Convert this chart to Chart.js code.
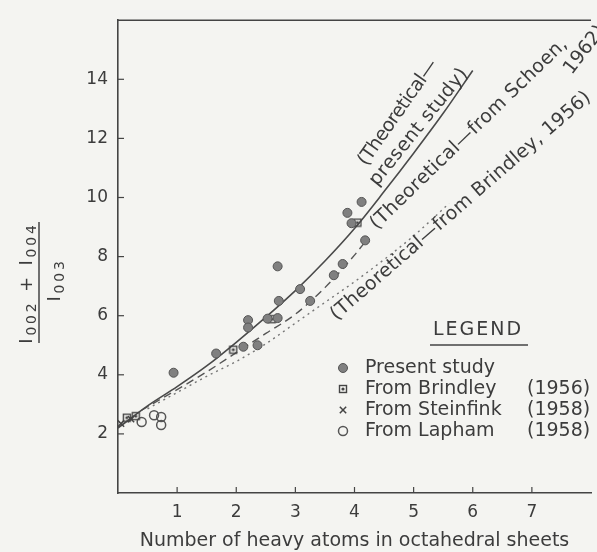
<!DOCTYPE html>
<html>
<head>
<meta charset="utf-8">
<title>Basal intensity ratio vs heavy atoms</title>
<script src="https://cdn.jsdelivr.net/npm/chart.js@4.4.1/dist/chart.umd.min.js"></script>
<style>
  html, body { margin: 0; padding: 0; background: #f4f4f1; }
  #wrap { width: 597px; height: 552px; position: relative; }
</style>
</head>
<body>
<div id="wrap"><canvas id="myChart"></canvas></div>
<script>
// values
const xTicks = [1, 2, 3, 4, 5, 6, 7];
const yTicks = [2, 4, 6, 8, 10, 12, 14];

// measured points
const presentX = [0.94, 1.66, 2.12, 2.36, 2.2, 2.2, 2.53, 2.7, 2.72, 2.7, 3.08, 3.25, 3.65, 3.8, 4.18, 3.88, 4.12, 3.95];
const presentY = [4.07, 4.72, 4.95, 5.0, 5.85, 5.6, 5.9, 5.92, 6.5, 7.67, 6.9, 6.5, 7.37, 7.75, 8.55, 9.48, 9.85, 9.13];
const brindleyX = [0.15, 0.3, 1.95, 2.6, 4.05];
const brindleyY = [2.55, 2.6, 4.85, 5.88, 9.15];
const steinfinkX = [0.05, 0.22];
const steinfinkY = [2.35, 2.5];
const laphamX = [0.4, 0.61, 0.73, 0.73];
const laphamY = [2.4, 2.63, 2.3, 2.57];

// theoretical curves
const theoryX = [0, 0.5, 1, 1.5, 2, 2.5, 3, 3.5, 4, 4.5, 5, 5.5, 6];
const theoryY = [2.2, 2.95, 3.6, 4.3, 5.1, 5.95, 6.85, 7.85, 8.95, 10.2, 11.5, 12.85, 14.3];
const schoenX = [0.4, 1, 1.5, 2, 2.5, 3, 3.5, 4, 4.2];
const schoenY = [2.8, 3.5, 4.1, 4.75, 5.4, 6.05, 6.95, 8.05, 8.55];
const brindleyThX = [0.5, 1, 1.5, 2, 2.5, 3, 3.5, 4, 4.5, 5, 5.6];
const brindleyThY = [2.85, 3.4, 3.95, 4.45, 5.05, 5.75, 6.45, 7.15, 7.9, 8.7, 9.8];

const legendNames = ['Present study', 'From Brindley', 'From Steinfink', 'From Lapham'];
const legendYears = ['', '(1956)', '(1958)', '(1958)'];

const INK = '#3c3c3c';
const FONT = "'DejaVu Sans', sans-serif";
Chart.defaults.font.family = FONT;
Chart.defaults.color = INK;

const pts = (xs, ys) => xs.map((x, i) => ({ x: x, y: ys[i] }));

// square with a dot for Brindley points
function squareDot(size) {
    const c = document.createElement('canvas');
    c.width = size; c.height = size;
    const g = c.getContext('2d');
    g.strokeStyle = '#444';
    g.lineWidth = 1.4;
    g.strokeRect(1.5, 1.5, size - 3, size - 3);
    g.fillStyle = '#444';
    g.beginPath();
    g.arc(size / 2, size / 2, 1.6, 0, Math.PI * 2);
    g.fill();
    return c;
}
const sqImg = squareDot(10);

const markerStyles = [
    { pointStyle: 'circle', radius: 4.5, borderWidth: 1, fill: '#808080', stroke: '#555' },
    { pointStyle: sqImg, radius: 5, borderWidth: 1, fill: 'transparent', stroke: '#444' },
    { pointStyle: 'crossRot', radius: 4.5, borderWidth: 1.5, fill: 'transparent', stroke: '#444' },
    { pointStyle: 'circle', radius: 4.5, borderWidth: 1.5, fill: 'rgba(0,0,0,0)', stroke: '#555' }
];

function pointSet(label, data, m) {
    return {
        label: label, data: data, showLine: false,
        pointStyle: m.pointStyle, pointRadius: m.radius, pointBorderWidth: m.borderWidth,
        pointBackgroundColor: m.fill, pointBorderColor: m.stroke
    };
}
function lineSet(label, data, dash, color, width) {
    return {
        label: label, data: data, showLine: true, pointRadius: 0,
        borderColor: color, borderWidth: width, borderDash: dash,
        cubicInterpolationMode: 'monotone', fill: false
    };
}

function rotText(ctx, str, cx, cy, deg, len) {
    ctx.save();
    ctx.translate(cx, cy);
    ctx.rotate(-deg * Math.PI / 180);
    ctx.letterSpacing = '0px';
    const w = ctx.measureText(str).width;
    if (len) ctx.letterSpacing = ((len - w) / (str.length - 1)).toFixed(2) + 'px';
    ctx.textAlign = 'center';
    ctx.textBaseline = 'middle';
    ctx.fillText(str, 0, 0);
    ctx.restore();
}

// y axis title: (I002 + I004) / I003, rotated
function subRun(ctx, parts, baseX, centerY) {
    const big = "18px " + FONT, small = "14px " + FONT;
    ctx.save();
    ctx.translate(baseX, centerY);
    ctx.rotate(-Math.PI / 2);
    ctx.letterSpacing = '2.8px';
    ctx.textAlign = 'left';
    ctx.textBaseline = 'alphabetic';
    let total = 0;
    parts.forEach(p => { ctx.font = p.sub ? small : big; total += ctx.measureText(p.t).width; });
    let x = -total / 2;
    parts.forEach(p => {
        ctx.font = p.sub ? small : big;
        ctx.fillText(p.t, x, p.sub ? 4 : 0);
        x += ctx.measureText(p.t).width;
    });
    ctx.restore();
}

const decorPlugin = {
    id: 'decor',
    beforeDraw(chart) {
        const ctx = chart.ctx;
        ctx.save();
        ctx.fillStyle = '#f4f4f1';
        ctx.fillRect(0, 0, chart.width, chart.height);
        ctx.restore();
    },
    afterDraw(chart) {
        const ctx = chart.ctx;
        const a = chart.chartArea;
        const xs = chart.scales.x, ys = chart.scales.y;
        ctx.save();
        ctx.strokeStyle = '#444';
        ctx.lineWidth = 1.6;
        // top frame line
        ctx.beginPath();
        ctx.moveTo(a.left, a.top);
        ctx.lineTo(a.right, a.top);
        ctx.stroke();
        // inward tick marks
        ctx.lineWidth = 1.2;
        xTicks.forEach(v => {
            const px = xs.getPixelForValue(v);
            ctx.beginPath(); ctx.moveTo(px, a.bottom); ctx.lineTo(px, a.bottom - 6); ctx.stroke();
        });
        yTicks.forEach(v => {
            const py = ys.getPixelForValue(v);
            ctx.beginPath(); ctx.moveTo(a.left, py); ctx.lineTo(a.left + 6, py); ctx.stroke();
        });

        // y title fraction
        ctx.fillStyle = INK;
        subRun(ctx, [{ t: 'I' }, { t: '002', sub: true }, { t: ' + ' }, { t: 'I' }, { t: '004', sub: true }], 32, 283);
        subRun(ctx, [{ t: 'I' }, { t: '003', sub: true }], 60, 280);
        ctx.lineWidth = 1.5;
        ctx.beginPath(); ctx.moveTo(39, 222); ctx.lineTo(39, 343); ctx.stroke();

        // curve annotations
        ctx.font = "19px " + FONT;
        rotText(ctx, '(Theoretical\u2014', 398, 113, 55, 125);
        rotText(ctx, 'present study)', 419, 127, 51, 145);
        rotText(ctx, '(Theoretical\u2014from Schoen,', 469, 134, 44, 266);
        rotText(ctx, '1962)', 585, 50, 52, 56);
        rotText(ctx, '(Theoretical\u2014from Brindley, 1956)', 461, 206, 41, 338);

        // legend
        ctx.letterSpacing = '2px';
        ctx.textAlign = 'center';
        ctx.textBaseline = 'middle';
        ctx.fillText('LEGEND', 478, 330);
        ctx.letterSpacing = '0px';
        ctx.lineWidth = 1.5;
        ctx.beginPath(); ctx.moveTo(430, 345); ctx.lineTo(528, 345); ctx.stroke();
        ctx.textAlign = 'left';
        legendNames.forEach((name, i) => {
            const y = 368 + i * 21;
            const m = markerStyles[i];
            ctx.fillStyle = m.fill;
            ctx.strokeStyle = m.stroke;
            ctx.lineWidth = m.borderWidth;
            Chart.helpers.drawPoint(ctx, { pointStyle: m.pointStyle, radius: m.radius, rotation: 0, borderWidth: m.borderWidth }, 343, y);
            ctx.fillStyle = INK;
            ctx.fillText(name, 365, y);
            if (legendYears[i]) ctx.fillText(legendYears[i], 527, y);
        });
        ctx.restore();
    }
};

const config = {
    type: 'scatter',
    data: {
        datasets: [
            pointSet('Present study', pts(presentX, presentY), markerStyles[0]),
            pointSet('From Brindley (1956)', pts(brindleyX, brindleyY), markerStyles[1]),
            pointSet('From Steinfink (1958)', pts(steinfinkX, steinfinkY), markerStyles[2]),
            pointSet('From Lapham (1958)', pts(laphamX, laphamY), markerStyles[3]),
            lineSet('Theoretical - present study', pts(theoryX, theoryY), [], '#4a4a4a', 1.6),
            lineSet('Theoretical - from Schoen, 1962', pts(schoenX, schoenY), [8, 5], '#555', 1.4),
            lineSet('Theoretical - from Brindley, 1956', pts(brindleyThX, brindleyThY), [2, 4], '#777', 1.4)
        ]
    },
    options: {
        responsive: true,
        maintainAspectRatio: false,
        animation: false,
        layout: { padding: { top: 14, right: 0, left: 0, bottom: 0 } },
        plugins: {
            legend: { display: false },
            tooltip: { enabled: false }
        },
        scales: {
            x: {
                type: 'linear',
                min: 0, max: 8,
                afterFit: (scale) => { scale.height = 59; },
                afterBuildTicks: (scale) => { scale.ticks = xTicks.map(v => ({ value: v })); },
                grid: { display: true, drawOnChartArea: false, drawTicks: false },
                border: { color: '#444', width: 1.6 },
                ticks: { padding: 9, font: { size: 17 }, color: INK },
                title: {
                    display: true,
                    text: 'Number of heavy atoms in octahedral sheets',
                    font: { size: 19 },
                    color: INK,
                    padding: { top: 0, bottom: 0 }
                }
            },
            y: {
                type: 'linear',
                min: 0, max: 16,
                afterFit: (scale) => { scale.width = 118; },
                afterBuildTicks: (scale) => { scale.ticks = yTicks.map(v => ({ value: v })); },
                grid: { display: true, drawOnChartArea: false, drawTicks: false },
                border: { color: '#444', width: 1.6 },
                ticks: { padding: 10, font: { size: 17 }, color: INK }
            }
        }
    },
    plugins: [decorPlugin]
};

let myChart = new Chart(document.getElementById('myChart'), config);
</script>
</body>
</html>
